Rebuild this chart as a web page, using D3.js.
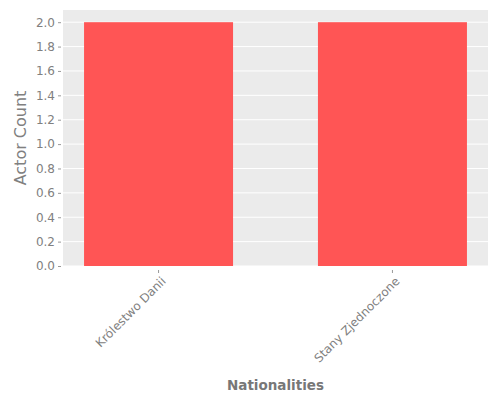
<!DOCTYPE html>
<html>
<head>
<meta charset="utf-8">
<script src="https://cdn.jsdelivr.net/npm/d3@7"></script>
<style>
  body { margin: 0; background: #fff; }
  text { font-family: "DejaVu Sans", sans-serif; }
</style>
</head>
<body>
<div id="chart"></div>
<script>
var nationalities = ['Królestwo Danii', 'Stany Zjednoczone'];
var actorCounts = [2, 2];
var yTicks = [0, 0.2, 0.4, 0.6, 0.8, 1.0, 1.2, 1.4, 1.6, 1.8, 2.0];

var width = 500, height = 400;
var margin = {top: 10, right: 12, bottom: 134, left: 63};
var innerW = width - margin.left - margin.right,
    innerH = height - margin.top - margin.bottom;

var svg = d3.select('#chart').append('svg')
  .attr('width', width)
  .attr('height', height);

var g = svg.append('g')
  .attr('transform', 'translate(' + margin.left + ',' + margin.top + ')');

var x = d3.scaleBand()
  .domain(nationalities)
  .range([0, innerW])
  .paddingInner(0.363)
  .paddingOuter(0.09);

var y = d3.scaleLinear()
  .domain([0, 2.1])
  .range([innerH, 0]);

// background
g.append('rect')
  .attr('width', innerW)
  .attr('height', innerH)
  .attr('fill', '#ebebeb');

// gridlines
g.selectAll('.grid')
  .data(yTicks)
  .enter().append('line')
  .attr('x1', 0)
  .attr('x2', innerW)
  .attr('y1', function(d) { return y(d); })
  .attr('y2', function(d) { return y(d); })
  .attr('stroke', '#fff')
  .attr('stroke-width', 1);

// bars
g.selectAll('.bar')
  .data(nationalities)
  .enter().append('rect')
  .attr('x', function(d) { return x(d); })
  .attr('y', function(d, i) { return y(actorCounts[i]); })
  .attr('width', x.bandwidth())
  .attr('height', function(d, i) { return innerH - y(actorCounts[i]); })
  .attr('fill', '#ff5555');

// y axis
var yAxis = g.append('g')
  .call(d3.axisLeft(y).tickValues(yTicks).tickFormat(d3.format('.1f')).tickSize(3).tickPadding(5));
yAxis.select('.domain').remove();
yAxis.selectAll('line').attr('stroke', '#999').attr('transform', 'translate(-2,0)');
yAxis.selectAll('text').attr('fill', '#808080').style('font-size', '12px');

// x axis
var xAxis = g.append('g')
  .attr('transform', 'translate(0,' + innerH + ')')
  .call(d3.axisBottom(x).tickSize(3).tickPadding(4));
xAxis.select('.domain').remove();
xAxis.selectAll('line').attr('stroke', '#999').attr('transform', 'translate(0,4)');
xAxis.selectAll('text')
  .attr('fill', '#808080')
  .style('font-size', '12px')
  .style('text-anchor', 'end')
  .attr('dy', '0.35em')
  .attr('transform', 'translate(5,13) rotate(-45)')
  .attr('x', 0)
  .attr('y', 0);

// axis titles
svg.append('text')
  .attr('transform', 'translate(26,' + (margin.top + innerH / 2) + ') rotate(-90)')
  .attr('text-anchor', 'middle')
  .attr('fill', '#808080')
  .style('font-size', '16px')
  .text('Actor Count');

svg.append('text')
  .attr('x', margin.left + innerW / 2)
  .attr('y', 390)
  .attr('text-anchor', 'middle')
  .attr('fill', '#777')
  .style('font-size', '13.5px')
  .style('font-weight', 'bold')
  .text('Nationalities');
</script>
</body>
</html>
